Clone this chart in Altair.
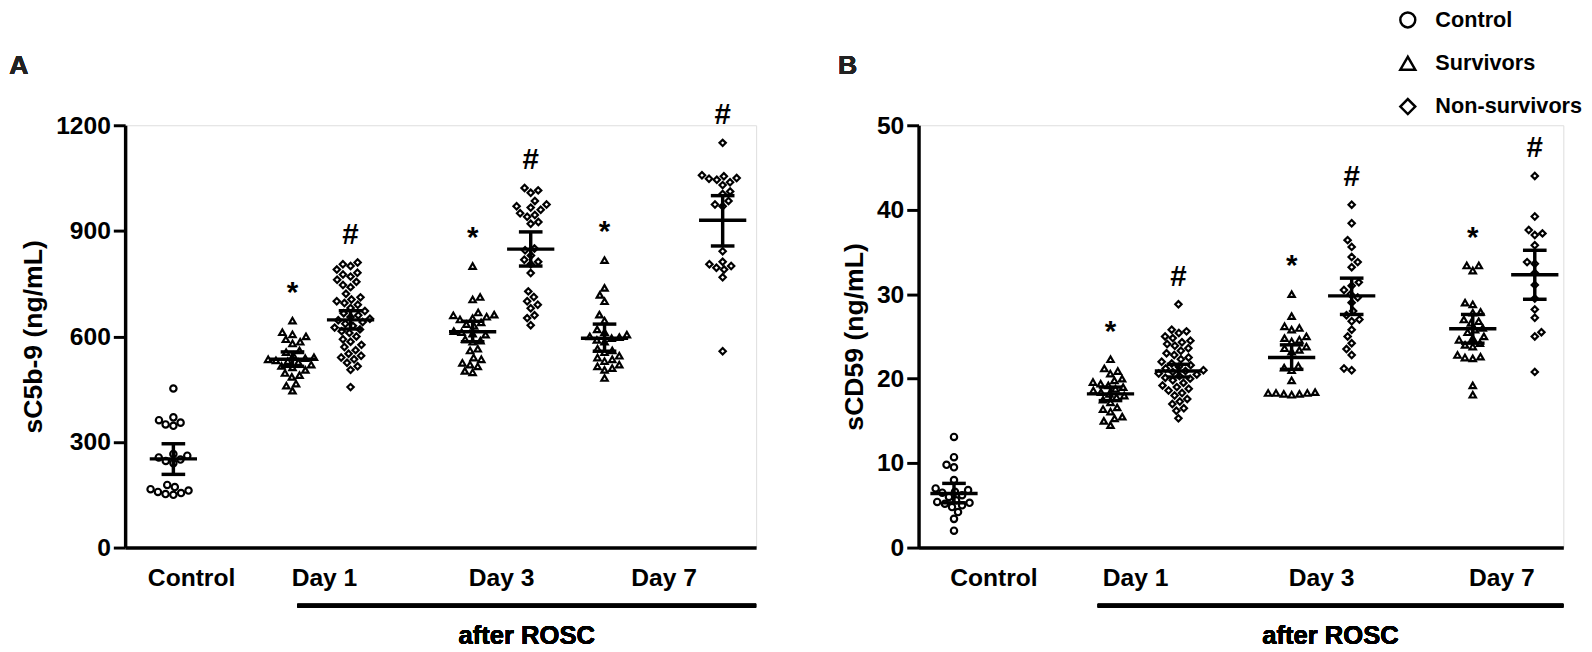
import math
import altair as alt
import pandas as pd

# ---------------- data ----------------
group_ids = ["Control", "D1S", "D1NS", "D3S", "D3NS", "D7S", "D7NS"]
group_kind = ["Control", "Survivors", "Non-survivors", "Survivors", "Non-survivors", "Survivors", "Non-survivors"]
group_sig = ["", "*", "#", "*", "#", "*", "#"]
day_labels = ["Control", "Day 1", "Day 3", "Day 7"]

a_ctrl = [452, 370, 362, 355, 350, 346, 266, 261, 256, 250, 246, 240, 178, 172, 166, 162, 158, 155, 152, 150]
a_d1s = [645, 612, 606, 600, 592, 585, 580, 560, 555, 546, 541, 538, 535, 532, 530, 527, 520, 516, 512, 505,
         496, 490, 485, 466, 460, 446]
a_d1ns = [810, 805, 800, 790, 781, 776, 770, 761, 755, 746, 740, 721, 711, 705, 700, 695, 690, 681, 672, 666,
          660, 655, 650, 646, 641, 636, 630, 625, 620, 615, 610, 600, 592, 585, 576, 570, 561, 551, 545, 540,
          535, 525, 515, 505, 456]
a_d3s = [800, 712, 705, 668, 662, 660, 656, 652, 648, 640, 635, 630, 615, 612, 608, 605, 592, 588, 585, 565,
         560, 540, 535, 525, 520, 515, 502, 498]
a_d3ns = [1022, 1015, 1008, 985, 975, 970, 966, 960, 950, 945, 940, 925, 920, 850, 845, 830, 818, 812, 805, 780,
          728, 712, 700, 690, 680, 660, 652, 632]
a_d7s = [817, 738, 718, 700, 662, 645, 620, 612, 605, 600, 598, 595, 590, 585, 565, 560, 555, 545, 540, 535,
         530, 520, 515, 510, 505, 482]
a_d7ns = [1150, 1058, 1055, 1050, 1048, 1045, 1038, 1030, 1012, 1005, 985, 975, 970, 842, 812, 805, 800, 795,
          790, 768, 558]
a_mean = [252, 535, 647, 613, 848, 595, 930]
a_lo = [208, 515, 621, 585, 800, 558, 857]
a_hi = [295, 556, 673, 643, 897, 635, 1000]

b_ctrl = [13.1, 10.7, 9.8, 9.5, 8.0, 7.0, 6.8, 6.6, 6.5, 6.2, 6.0, 5.6, 5.4, 5.3, 5.2, 5.0, 4.8, 4.2, 3.4, 2.0]
b_d1s = [22.3, 21.2, 20.9, 20.6, 20.0, 19.8, 19.6, 19.4, 19.2, 19.0, 18.8, 18.6, 18.4, 18.2, 18.0, 17.8, 17.5,
         17.2, 16.6, 16.4, 16.1, 15.5, 15.3, 15.0, 14.5]
b_d1ns = [28.8, 25.8, 25.6, 25.4, 25.0, 24.8, 24.5, 24.3, 24.1, 23.9, 23.6, 23.3, 23.0, 22.8, 22.5, 22.3, 22.0,
          21.8, 21.6, 21.4, 21.2, 21.0, 20.9, 20.8, 20.6, 20.5, 20.3, 20.1, 20.0, 19.8, 19.5, 19.2, 19.0, 18.8,
          18.6, 18.3, 18.0, 17.6, 17.3, 17.0, 16.5, 16.2, 15.3]
b_d3s = [30.0, 27.4, 26.2, 26.0, 25.8, 25.0, 24.8, 24.6, 24.4, 23.8, 23.6, 23.4, 23.2, 21.5, 21.3, 21.0, 19.8,
         18.4, 18.3, 18.3, 18.2, 18.2, 18.1, 18.3]
b_d3ns = [40.6, 38.4, 36.4, 35.6, 34.4, 33.8, 33.2, 31.4, 31.0, 30.5, 30.0, 29.6, 29.0, 28.0, 27.5, 27.0, 26.8,
          25.8, 25.0, 24.2, 23.5, 22.8, 21.2, 21.0]
b_d7s = [33.4, 33.4, 32.8, 29.0, 28.8, 27.9, 27.8, 27.0, 26.8, 26.6, 26.0, 25.8, 25.5, 25.0, 24.8, 24.6, 24.2,
         24.0, 23.8, 22.8, 22.6, 22.5, 22.4, 19.2, 18.1]
b_d7ns = [44.0, 39.2, 37.6, 37.2, 37.0, 35.8, 33.8, 33.6, 32.5, 31.1, 29.5, 28.2, 27.2, 25.5, 25.0, 20.8]
b_mean = [6.4, 18.2, 20.9, 22.5, 29.8, 25.9, 32.3]
b_lo = [5.3, 17.4, 20.2, 21.1, 27.6, 24.2, 29.4]
b_hi = [7.6, 19.0, 21.7, 24.0, 31.9, 27.6, 35.2]

# ---------------- layout (pixels) ----------------
PH = 429
LAYOUT_A = dict(pw=641, gx=[49, 170, 229, 353, 412, 487, 607], lx=[67, 202, 382, 547], br=175,
                cuts=[130, 290, 460])
LAYOUT_B = dict(pw=655, gx=[36, 195, 264, 379, 440, 563, 626], lx=[76, 220, 409, 592], br=182,
                cuts=[140, 310, 490])
FONT = "Liberation Sans"
MEAN_HALF, CAP_HALF = 24, 12
DOT = 8.0


def swarm(vals, ymax):
    ys = [v / ymax * PH for v in vals]
    order = sorted(range(len(vals)), key=lambda i: ys[i])
    placed, offs, flip = [], [0.0] * len(vals), 1
    for i in order:
        y = ys[i]
        near = [(px, py) for px, py in placed if abs(py - y) < DOT]
        cands = [0.0]
        for px, py in near:
            dx = math.sqrt(DOT * DOT - (py - y) ** 2)
            cands += [px + dx, px - dx]
        cands.sort(key=lambda c: (round(abs(c), 3), -flip * c))
        for c in cands:
            if all((c - px) ** 2 + (y - py) ** 2 >= DOT * DOT - 1e-6 for px, py in near):
                offs[i] = c
                placed.append((c, y))
                flip = -flip
                break
    return offs


def panel(series, means, los, his, ymax, yvals, ytitle, letter, letter_x, lay, show_legend):
    PW, GX = lay["pw"], lay["gx"]
    rows = []
    for g, (gid, kind, vals) in enumerate(zip(group_ids, group_kind, series)):
        for v, o in zip(vals, swarm(vals, ymax)):
            rows.append({"group": gid, "kind": kind, "value": v, "x": GX[g] + o, "xc": GX[g],
                         "sig": group_sig[g]})
    pts = pd.DataFrame(rows)
    stats = pd.DataFrame({"group": group_ids, "xc": GX, "mean": means, "lo": los, "hi": his})

    xscale = alt.Scale(domain=[0, PW], nice=False, zero=False)
    yscale = alt.Scale(domain=[0, ymax], nice=False)
    c1, c2, c3 = lay["cuts"]
    lab_expr = (f"datum.value < {c1} ? '{day_labels[0]}' : datum.value < {c2} ? '{day_labels[1]}' : "
                f"datum.value < {c3} ? '{day_labels[2]}' : '{day_labels[3]}'")
    xaxis = alt.Axis(values=lay["lx"], labelExpr=lab_expr, ticks=False, grid=False, title=None,
                     domainWidth=3.5, domainColor="black", labelFont=FONT, labelFontSize=25,
                     labelFontWeight="bold", labelColor="black", labelPadding=19, labelOverlap=False,
                     labelFlush=False)
    yaxis = alt.Axis(values=yvals, format="d", grid=False, title=ytitle, domainWidth=3.5,
                     domainColor="black", tickWidth=3, tickSize=12, tickColor="black", labelFont=FONT,
                     labelFontSize=25, labelFontWeight="bold", labelColor="black", labelPadding=3,
                     titleFont=FONT, titleFontSize=27, titleFontWeight="bold", titleColor="black",
                     titlePadding=8)

    legend = alt.Legend(title=None, orient="none", legendX=486, legendY=-118, symbolSize=230,
                        symbolStrokeWidth=2.5, symbolStrokeColor="black", labelFont=FONT,
                        labelFontSize=22, labelFontWeight="bold", labelColor="black", rowPadding=19,
                        labelOffset=17, labelLimit=0, padding=0) if show_legend else None

    points = alt.Chart(pts).mark_point(filled=False, size=42, strokeWidth=2.2, color="black", opacity=1).encode(
        x=alt.X("x:Q", scale=xscale, axis=xaxis),
        y=alt.Y("value:Q", scale=yscale, axis=yaxis),
        shape=alt.Shape("kind:N", scale=alt.Scale(domain=["Control", "Survivors", "Non-survivors"],
                                                   range=["circle", "triangle-up", "diamond"]),
                        legend=legend),
    )

    base = alt.Chart(stats).transform_calculate(
        ml=f"datum.xc - {MEAN_HALF}", mr=f"datum.xc + {MEAN_HALF}",
        cl=f"datum.xc - {CAP_HALF}", cr=f"datum.xc + {CAP_HALF}")
    mean_rule = base.mark_rule(color="black", strokeWidth=3.5).encode(
        x=alt.X("ml:Q", scale=xscale), x2="mr:Q", y=alt.Y("mean:Q", scale=yscale))
    cap_hi = base.mark_rule(color="black", strokeWidth=3.5).encode(
        x=alt.X("cl:Q", scale=xscale), x2="cr:Q", y=alt.Y("hi:Q", scale=yscale))
    cap_lo = base.mark_rule(color="black", strokeWidth=3.5).encode(
        x=alt.X("cl:Q", scale=xscale), x2="cr:Q", y=alt.Y("lo:Q", scale=yscale))
    vbar = base.mark_rule(color="black", strokeWidth=3.5).encode(
        x=alt.X("xc:Q", scale=xscale), y=alt.Y("lo:Q", scale=yscale), y2="hi:Q")

    sig = alt.Chart(pts).transform_filter("datum.sig != ''").transform_aggregate(
        top="max(value)", groupby=["group", "xc", "sig"]
    ).mark_text(font=FONT, fontSize=30, fontWeight="bold", color="black", dy=-28, baseline="middle").encode(
        x=alt.X("xc:Q", scale=xscale), y=alt.Y("top:Q", scale=yscale), text="sig:N")

    bracket = alt.Chart(stats).mark_rule(color="black", strokeWidth=4).encode(
        x=alt.X(datum=lay["br"], scale=xscale), x2=alt.X2(datum=PW), y=alt.value(PH + 59))
    rosc = alt.Chart(stats).mark_text(text="after ROSC", font=FONT, fontSize=26, fontWeight="bold",
                                      color="black", baseline="middle").encode(
        x=alt.X(datum=(lay["br"] + PW) / 2, scale=xscale), y=alt.value(PH + 90))
    let = alt.Chart(stats).mark_text(text=letter, font=FONT, fontSize=27, fontWeight="bold",
                                     color="#222", baseline="middle").encode(
        x=alt.value(letter_x), y=alt.value(-60))

    return alt.layer(points, mean_rule, cap_hi, cap_lo, vbar, sig, bracket, rosc, let).properties(
        width=PW, height=PH)


pA = panel([a_ctrl, a_d1s, a_d1ns, a_d3s, a_d3ns, a_d7s, a_d7ns], a_mean, a_lo, a_hi, 1200,
           [0, 300, 600, 900, 1200], "sC5b-9 (ng/mL)", "A", -108, LAYOUT_A, False)
pB = panel([b_ctrl, b_d1s, b_d1ns, b_d3s, b_d3ns, b_d7s, b_d7ns], b_mean, b_lo, b_hi, 50,
           [0, 10, 20, 30, 40, 50], "sCD59 (ng/mL)", "B", -72, LAYOUT_B, True)

chart = alt.hconcat(pA, pB, spacing=79).resolve_scale(
    y="independent", x="independent", shape="independent"
).resolve_legend(shape="independent").properties(
    padding={"left": 0, "top": -5, "right": 0, "bottom": 0}
).configure_view(stroke=None).configure(background="white")

chart.save("out.html", embed_options={"renderer": "svg", "actions": False})
